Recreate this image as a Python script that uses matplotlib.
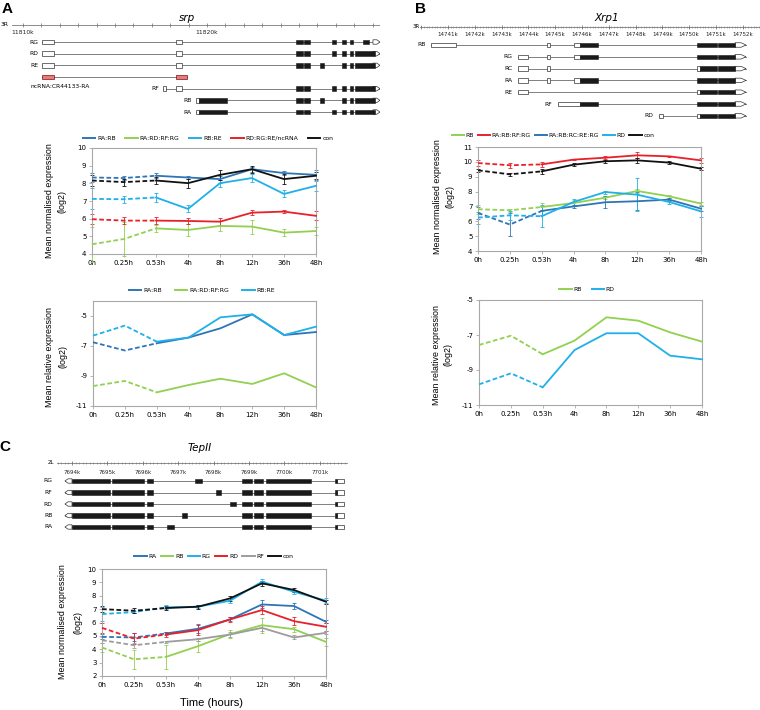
import numpy as np
import matplotlib.pyplot as plt
from matplotlib.patches import Rectangle, Polygon
from matplotlib.lines import Line2D

plt.rcParams['axes.unicode_minus'] = False

W, H = 760, 710

times = ['0h', '0.25h', '0.53h', '4h', '8h', '12h', '36h', '48h']

c_dblue = '#2e75b6'
c_green = '#92d050'
c_lblue = '#1fb0ea'
c_red = '#e8202a'
c_grey = '#9c9c9c'
c_black = '#111111'

# ---- srp, normalised expression
srp_names = ['RA:RB', 'RA:RD:RF:RG', 'RB:RE', 'RD:RG:RE/ncRNA', 'con']
srp_ra_rb = [8.33, 8.30, 8.43, 8.33, 8.24, 8.80, 8.58, 8.48]
srp_ra_rd_rf_rg = [4.55, 4.85, 5.45, 5.36, 5.59, 5.55, 5.21, 5.30]
srp_rb_re = [7.12, 7.10, 7.20, 6.55, 8.01, 8.30, 7.40, 7.86]
srp_rd_rg_re_nc = [5.97, 5.89, 5.89, 5.87, 5.83, 6.34, 6.40, 6.16]
srp_con = [8.16, 8.07, 8.16, 8.01, 8.48, 8.80, 8.24, 8.43]
srp_ra_rb_err = [0.25, 0.10, 0.15, 0.10, 0.20, 0.15, 0.10, 0.30]
srp_ra_rd_rf_rg_err = [1.00, 0.95, 0.20, 0.35, 0.30, 0.40, 0.20, 0.20]
srp_rb_re_err = [0.60, 0.20, 0.25, 0.20, 0.20, 0.20, 0.20, 0.30]
srp_rd_rg_re_nc_err = [0.30, 0.20, 0.20, 0.15, 0.20, 0.15, 0.10, 0.25]
srp_con_err = [0.30, 0.20, 0.20, 0.25, 0.30, 0.20, 0.30, 0.20]

# ---- srp, relative expression
srp_rel_names = ['RA:RB', 'RA:RD:RF:RG', 'RB:RE']
srp_rel_ra_rb = [-6.75, -7.30, -6.82, -6.44, -5.82, -4.89, -6.27, -6.07]
srp_rel_ra_rd_rf_rg = [-9.67, -9.33, -10.09, -9.60, -9.18, -9.53, -8.82, -9.76]
srp_rel_rb_re = [-6.31, -5.64, -6.71, -6.44, -5.09, -4.89, -6.27, -5.71]

# ---- Xrp1, normalised expression
xrp1_names = ['RB', 'RA:RB:RF:RG', 'RA:RB:RC:RE:RG', 'RD', 'con']
xrp1_rb = [6.81, 6.74, 6.96, 7.23, 7.59, 8.04, 7.68, 7.19]
xrp1_ra_rb_rf_rg = [9.92, 9.77, 9.83, 10.15, 10.28, 10.44, 10.37, 10.10]
xrp1_ra_rb_rc_re_rg = [6.56, 5.78, 6.70, 7.00, 7.28, 7.35, 7.46, 6.85]
xrp1_rd = [6.25, 6.40, 6.34, 7.30, 7.97, 7.79, 7.30, 6.67]
xrp1_con = [9.43, 9.16, 9.36, 9.81, 10.04, 10.10, 9.95, 9.54]
xrp1_rb_err = [0.30, 0.10, 0.25, 0.20, 0.10, 0.15, 0.10, 0.10]
xrp1_ra_rb_rf_rg_err = [0.20, 0.15, 0.15, 0.05, 0.10, 0.20, 0.05, 0.15]
xrp1_ra_rb_rc_re_rg_err = [0.40, 0.80, 0.30, 0.10, 0.40, 0.60, 0.10, 0.15]
xrp1_rd_err = [0.40, 0.30, 0.75, 0.20, 0.10, 1.10, 0.15, 0.35]
xrp1_con_err = [0.10, 0.10, 0.15, 0.10, 0.10, 0.15, 0.10, 0.10]

# ---- Xrp1, relative expression
xrp1_rel_names = ['RB', 'RD']
xrp1_rel_rb = [-7.57, -7.04, -8.10, -7.32, -5.99, -6.18, -6.85, -7.38]
xrp1_rel_rd = [-9.82, -9.19, -9.99, -7.86, -6.90, -6.90, -8.18, -8.39]

# ---- TepII, normalised expression
tep_names = ['RA', 'RB', 'RG', 'RD', 'RF', 'con']
tep_ra = [4.93, 4.88, 5.18, 5.53, 6.23, 7.35, 7.23, 6.05]
tep_rb = [4.13, 3.25, 3.43, 4.23, 5.13, 5.80, 5.50, 4.55]
tep_rg = [6.63, 6.78, 7.13, 7.18, 7.63, 9.05, 8.30, 7.63]
tep_rd = [5.60, 4.80, 5.10, 5.43, 6.23, 6.93, 6.10, 5.68]
tep_rf = [4.68, 4.30, 4.55, 4.75, 5.10, 5.60, 4.88, 5.23]
tep_con = [7.00, 6.88, 7.08, 7.18, 7.80, 8.93, 8.43, 7.55]
tep_ra_err = [0.20, 0.30, 0.10, 0.35, 0.15, 0.30, 0.20, 0.10]
tep_rb_err = [0.30, 0.70, 0.90, 0.40, 0.30, 0.55, 0.20, 0.30]
tep_rg_err = [0.55, 0.10, 0.15, 0.10, 0.20, 0.20, 0.15, 0.20]
tep_rd_err = [0.35, 0.40, 0.20, 0.40, 0.20, 0.30, 0.30, 0.30]
tep_rf_err = [0.20, 0.20, 0.10, 0.10, 0.20, 0.20, 0.15, 0.10]
tep_con_err = [0.20, 0.20, 0.15, 0.15, 0.20, 0.20, 0.15, 0.15]

# ---- gene models (kb), one row per transcript, top to bottom
srp_rows = ['RG', 'RD', 'RE', 'ncRNA:CR44133-RA', 'RF', 'RB', 'RA']
srp_utr = [
    [(11811.03, 11811.68), (11818.32, 11818.64)],
    [(11811.03, 11811.68), (11818.32, 11818.64)],
    [(11811.03, 11811.68), (11818.32, 11818.64)],
    [],
    [(11817.61, 11817.77), (11818.32, 11818.64)],
    [(11819.38, 11819.55)],
    [(11819.38, 11819.55)],
]
srp_cds = [
    [(11824.84, 11825.22), (11825.27, 11825.60), (11826.79, 11827.01),
     (11827.34, 11827.55), (11827.77, 11827.93), (11828.48, 11828.80)],
    [(11824.84, 11825.22), (11825.27, 11825.60), (11826.79, 11827.01),
     (11827.34, 11827.55), (11827.77, 11827.93), (11828.04, 11829.13)],
    [(11824.84, 11825.22), (11825.27, 11825.60), (11826.14, 11826.36),
     (11827.34, 11827.55), (11827.77, 11827.93), (11828.04, 11829.13)],
    [],
    [(11824.84, 11825.22), (11825.27, 11825.60), (11826.79, 11827.01),
     (11827.34, 11827.55), (11827.77, 11827.93), (11828.04, 11829.13)],
    [(11819.57, 11821.09), (11824.84, 11825.22), (11825.27, 11825.60),
     (11826.14, 11826.36), (11827.34, 11827.55), (11827.77, 11827.93),
     (11828.04, 11829.13)],
    [(11819.57, 11821.09), (11824.84, 11825.22), (11825.27, 11825.60),
     (11826.79, 11827.01), (11827.34, 11827.55), (11827.77, 11827.93),
     (11828.04, 11829.13)],
]
srp_nc = [[], [], [], [(11811.03, 11811.68), (11818.32, 11818.91)], [], [], []]
srp_end = (11829.02, 11829.40)

xrp1_rows = ['RB', 'RG', 'RC', 'RA', 'RE', 'RF', 'RD']
xrp1_utr = [
    [(14740.37, 14741.30), (14744.69, 14744.81), (14745.70, 14745.93)],
    [(14743.61, 14743.99), (14744.69, 14744.81), (14745.70, 14745.93)],
    [(14743.61, 14743.99), (14744.69, 14744.81), (14750.29, 14750.40)],
    [(14743.61, 14743.99), (14744.69, 14744.81), (14745.70, 14745.93)],
    [(14743.61, 14743.99), (14750.29, 14750.40)],
    [(14745.10, 14745.93)],
    [(14748.87, 14749.02), (14750.29, 14750.40)],
]
xrp1_cds = [
    [(14745.93, 14746.60), (14750.29, 14751.04), (14751.07, 14751.71)],
    [(14745.93, 14746.60), (14750.29, 14751.04), (14751.07, 14751.71)],
    [(14750.40, 14751.04), (14751.07, 14751.71)],
    [(14745.93, 14746.60), (14750.29, 14751.04), (14751.07, 14751.71)],
    [(14750.40, 14751.04), (14751.07, 14751.71)],
    [(14745.93, 14746.60), (14750.29, 14751.04), (14751.07, 14751.71)],
    [(14750.40, 14751.04), (14751.07, 14751.71)],
]
xrp1_end = (14751.71, 14752.12)

tep_rows = ['RG', 'RF', 'RD', 'RB', 'RA']
tep_shared_cds = [(7694.00, 7695.07), (7695.13, 7696.03), (7696.12, 7696.29),
                  (7698.80, 7699.08), (7699.14, 7699.40), (7699.48, 7700.75),
                  (7701.43, 7701.49)]
tep_unique_cds = [(7697.47, 7697.67), (7698.07, 7698.21), (7698.46, 7698.63),
                  (7697.11, 7697.25), (7696.68, 7696.88)]
tep_utr = [(7701.49, 7701.68)]
tep_start = (7693.80, 7694.00)

fig = plt.figure(figsize=(W / 100, H / 100), dpi=100)
lab_font = ['Liberation Sans', 'DejaVu Sans']


def px_axes(l, t, r, b):
    return fig.add_axes([l / W, 1 - b / H, (r - l) / W, (b - t) / H])


def ftext(x, y, s, **kw):
    fig.text(x / W, 1 - y / H, s, **kw)


def gene_axes(l, t, r, b, anchor_px, anchor_kb, px_per_kb, row0, step):
    ax = px_axes(l, t, r, b)
    ax.set_xlim(anchor_kb + (l - anchor_px) / px_per_kb,
                anchor_kb + (r - anchor_px) / px_per_kb)
    ax.set_ylim((b - row0) / step, (t - row0) / step)
    ax.axis('off')
    return ax


def ruler(ax, x0, x1, y, minor, major, labels, lab_y, fs):
    ax.plot([x0, x1], [y, y], color='#7a7a7a', lw=0.6)
    if minor:
        mt = np.arange(np.ceil(x0 / minor) * minor, x1, minor)
        ax.vlines(mt, y - 0.07, y + 0.07, color='#7a7a7a', lw=0.4)
    mj = np.arange(np.ceil(x0 / major) * major, x1, major)
    ax.vlines(mj, y - 0.16, y + 0.16, color='#6a6a6a', lw=0.5)
    for kb in labels:
        ax.text(kb, lab_y, f'{kb}k', ha='center', va='center', fontsize=fs, color='#222')


def model(ax, row, utr=(), cds=(), nc=(), end=None, start=None, h=0.38):
    parts = list(utr) + list(cds) + list(nc)
    if end:
        parts.append(end)
    if start:
        parts.append(start)
    lo = min(p[0] for p in parts)
    hi = max(p[1] for p in parts)
    ax.plot([lo, hi], [row, row], color='#808080', lw=0.7, zorder=1)
    for a, b in utr:
        ax.add_patch(Rectangle((a, row - h / 2), b - a, h, fc='white', ec='#333', lw=0.5, zorder=2))
    for a, b in cds:
        ax.add_patch(Rectangle((a, row - h / 2), b - a, h, fc='#1a1a1a', ec='#1a1a1a', lw=0.4, zorder=3))
    for a, b in nc:
        ax.add_patch(Rectangle((a, row - h / 2), b - a, h, fc='#e77a7a', ec='#7a1010', lw=0.5, zorder=2))
    if end:
        a, b = end
        m = b - (b - a) * 0.45
        ax.add_patch(Polygon([(a, row - h / 2), (m, row - h / 2), (b, row), (m, row + h / 2), (a, row + h / 2)],
                             closed=True, fc='white', ec='#333', lw=0.5, zorder=2))
    if start:
        a, b = start
        m = a + (b - a) * 0.45
        ax.add_patch(Polygon([(b, row - h / 2), (m, row - h / 2), (a, row), (m, row + h / 2), (b, row + h / 2)],
                             closed=True, fc='white', ec='#333', lw=0.5, zorder=2))
    return lo


def line_chart(ax, series, colors, errs, ylim, yticks):
    x = np.arange(len(times))
    for y, c, e in zip(series, colors, errs):
        y = np.asarray(y)
        ax.plot(x[:3], y[:3], color=c, lw=1.3, ls=(0, (2.6, 1.4)), clip_on=False, zorder=3)
        ax.plot(x[2:], y[2:], color=c, lw=1.3, clip_on=False, zorder=3)
        if e is not None:
            ax.errorbar(x, y, yerr=e, fmt='none', ecolor=c, elinewidth=0.6,
                        capsize=1.6, capthick=0.6, clip_on=False, zorder=2)
    ax.set_xlim(0, 7)
    ax.set_ylim(*ylim)
    ax.set_yticks(yticks)
    ax.set_xticks(x)
    ax.set_xticklabels(times)
    ax.tick_params(labelsize=5, length=2, width=0.5, color='#999', pad=2)
    for s in ax.spines.values():
        s.set_color('#a8a8a8')
        s.set_linewidth(0.8)


def legend(names, colors, cx, cy, spacing):
    hs = [Line2D([], [], color=c, lw=1.4) for c in colors]
    fig.legend(hs, names, loc='center', bbox_to_anchor=(cx / W, 1 - cy / H), ncol=len(names),
               frameon=False, fontsize=4.4, handlelength=2.0, handletextpad=0.3,
               columnspacing=spacing, borderaxespad=0, borderpad=0)


def ylab(x1, x2, yc, line1):
    ftext(x1, yc, line1, rotation=90, ha='center', va='center', fontsize=6.4, family=lab_font)
    ftext(x2, yc, '(log2)', rotation=90, ha='center', va='center', fontsize=6.4, family=lab_font)


# ================= panel A =================
ftext(7, 9, 'A', fontsize=11, fontweight='bold', family=lab_font, ha='center', va='center')
ftext(187, 18, 'srp', fontsize=7.5, style='italic', ha='center', va='center')
gA = gene_axes(0, 10, 380, 122, 23, 11810, 18.4, 42, 11.67)
ruler(gA, 11809.40, 11829.40, -17 / 11.67, None, 1, [11810, 11820], -9 / 11.67, 4.3)
ftext(5, 25, '3R', fontsize=4.3, ha='center', va='center')
for i, name in enumerate(srp_rows):
    lo = model(gA, i, srp_utr[i], srp_cds[i], srp_nc[i], end=None if srp_nc[i] else srp_end)
    if srp_nc[i]:
        gA.text(11810.4, i + 0.85, name, fontsize=4.3, ha='left', va='center')
    else:
        gA.text(lo - 0.22, i, name, fontsize=4.3, ha='right', va='center')

axA1 = px_axes(92, 148, 316, 254)
line_chart(axA1, [srp_ra_rb, srp_ra_rd_rf_rg, srp_rb_re, srp_rd_rg_re_nc, srp_con],
           [c_dblue, c_green, c_lblue, c_red, c_black],
           [srp_ra_rb_err, srp_ra_rd_rf_rg_err, srp_rb_re_err, srp_rd_rg_re_nc_err, srp_con_err],
           (4, 10), range(4, 11))
legend(srp_names, [c_dblue, c_green, c_lblue, c_red, c_black], 208, 138, 1.6)
ylab(50, 62, 201, 'Mean normalised expression')

axA2 = px_axes(93, 301, 316, 406)
line_chart(axA2, [srp_rel_ra_rb, srp_rel_ra_rd_rf_rg, srp_rel_rb_re],
           [c_dblue, c_green, c_lblue], [None, None, None], (-11, -4), [-11, -9, -7, -5])
legend(srp_rel_names, [c_dblue, c_green, c_lblue], 202, 290, 2.2)
ylab(50, 63, 357, 'Mean relative expression')

# ================= panel B =================
ftext(420, 9, 'B', fontsize=11, fontweight='bold', family=lab_font, ha='center', va='center')
ftext(607, 18, 'Xrp1', fontsize=7.5, style='italic', ha='center', va='center')
gB = gene_axes(420, 10, 760, 124, 448, 14741, 26.8, 45, 11.8)
ruler(gB, 14739.96, 14752.64, -18 / 11.8, 0.1, 1, range(14741, 14753), -10 / 11.8, 4.0)
ftext(416, 27, '3R', fontsize=4, ha='center', va='center')
for i, name in enumerate(xrp1_rows):
    lo = model(gB, i, xrp1_utr[i], xrp1_cds[i], end=xrp1_end)
    gB.text(lo - 0.2, i, name, fontsize=4.3, ha='right', va='center')

axB1 = px_axes(478, 147, 701, 251)
line_chart(axB1, [xrp1_rb, xrp1_ra_rb_rf_rg, xrp1_ra_rb_rc_re_rg, xrp1_rd, xrp1_con],
           [c_green, c_red, c_dblue, c_lblue, c_black],
           [xrp1_rb_err, xrp1_ra_rb_rf_rg_err, xrp1_ra_rb_rc_re_rg_err, xrp1_rd_err, xrp1_con_err],
           (4, 11), range(4, 12))
legend(xrp1_names, [c_green, c_red, c_dblue, c_lblue, c_black], 553, 135, 0.6)
ylab(438, 450, 197, 'Mean normalised expression')

axB2 = px_axes(479, 300, 702, 405)
line_chart(axB2, [xrp1_rel_rb, xrp1_rel_rd], [c_green, c_lblue], [None, None],
           (-11, -5), [-11, -9, -7, -5])
legend(xrp1_rel_names, [c_green, c_lblue], 587, 289, 1.6)
ylab(437, 448, 355, 'Mean relative expression')

# ================= panel C =================
ftext(5, 447, 'C', fontsize=11, fontweight='bold', family=lab_font, ha='center', va='center')
ftext(200, 448, 'TepII', fontsize=7.5, style='italic', ha='center', va='center')
gC = gene_axes(30, 452, 360, 536, 72, 7694, 35.4, 481, 11.5)
ruler(gC, 7693.58, 7701.77, -18 / 11.5, 0.1, 1, range(7694, 7702), -9 / 11.5, 4.0)
ftext(51, 463, '2L', fontsize=4, ha='center', va='center')
for i, name in enumerate(tep_rows):
    cds = sorted(tep_shared_cds + [tep_unique_cds[i]])
    lo = model(gC, i, tep_utr, cds, start=tep_start)
    gC.text(7693.45, i, name, fontsize=4.3, ha='right', va='center')

axC = px_axes(102, 569, 326, 676)
line_chart(axC, [tep_ra, tep_rb, tep_rg, tep_rd, tep_rf, tep_con],
           [c_dblue, c_green, c_lblue, c_red, c_grey, c_black],
           [tep_ra_err, tep_rb_err, tep_rg_err, tep_rd_err, tep_rf_err, tep_con_err],
           (2, 10), range(2, 11))
legend(tep_names, [c_dblue, c_green, c_lblue, c_red, c_grey, c_black], 214, 556, 0.7)
ylab(63, 78, 622, 'Mean normalised expression')
ftext(212, 703, 'Time (hours)', fontsize=8, family=lab_font, ha='center', va='center')

fig.savefig('out.png', dpi=100)
